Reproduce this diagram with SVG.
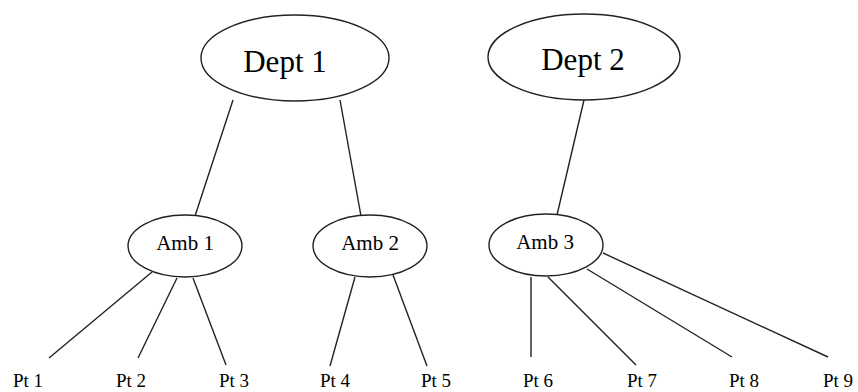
<svg xmlns="http://www.w3.org/2000/svg" width="858" height="392" viewBox="0 0 858 392">
<style>
.n ellipse{fill:#fff;stroke:#222;stroke-width:1.4}
text{font-family:"Liberation Serif","Times New Roman",serif;fill:#000;text-anchor:middle}
.big{font-size:31px}
.mid{font-size:21px}
.sm{font-size:19px}
#edges line{stroke:#222;stroke-width:1.4}
</style>
<rect width="858" height="392" fill="#fff"/>
<g id="edges">
<line x1="233" y1="100" x2="195" y2="216"/>
<line x1="340" y1="100" x2="361" y2="216"/>
<line x1="584" y1="100" x2="557" y2="215"/>
<line x1="152" y1="272" x2="49" y2="358"/>
<line x1="177" y1="278" x2="138" y2="358"/>
<line x1="193" y1="278" x2="226" y2="365"/>
<line x1="355" y1="277" x2="330" y2="366"/>
<line x1="393" y1="275" x2="427" y2="366"/>
<line x1="531" y1="277" x2="531" y2="357"/>
<line x1="548" y1="277" x2="636" y2="365"/>
<line x1="587" y1="269" x2="732" y2="357"/>
<line x1="603" y1="253" x2="828" y2="357"/>
</g>
<g id="dept1" class="n"><ellipse cx="295" cy="58" rx="94" ry="43"/><text class="big" x="285" y="72">Dept 1</text></g>
<g id="dept2" class="n"><ellipse cx="584" cy="57" rx="96" ry="43"/><text class="big" x="583" y="70">Dept 2</text></g>
<g id="amb1" class="n"><ellipse cx="185" cy="246" rx="57" ry="31"/><text class="mid" x="185" y="250">Amb 1</text></g>
<g id="amb2" class="n"><ellipse cx="370" cy="246" rx="57" ry="31"/><text class="mid" x="370" y="250">Amb 2</text></g>
<g id="amb3" class="n"><ellipse cx="546" cy="245" rx="57" ry="31"/><text class="mid" x="545" y="249">Amb 3</text></g>
<g id="pt1"><text class="sm" x="28" y="387">Pt 1</text></g>
<g id="pt2"><text class="sm" x="131" y="387">Pt 2</text></g>
<g id="pt3"><text class="sm" x="234" y="387">Pt 3</text></g>
<g id="pt4"><text class="sm" x="335" y="387">Pt 4</text></g>
<g id="pt5"><text class="sm" x="436" y="387">Pt 5</text></g>
<g id="pt6"><text class="sm" x="538" y="387">Pt 6</text></g>
<g id="pt7"><text class="sm" x="642" y="387">Pt 7</text></g>
<g id="pt8"><text class="sm" x="744" y="387">Pt 8</text></g>
<g id="pt9"><text class="sm" x="838" y="387">Pt 9</text></g>
</svg>
